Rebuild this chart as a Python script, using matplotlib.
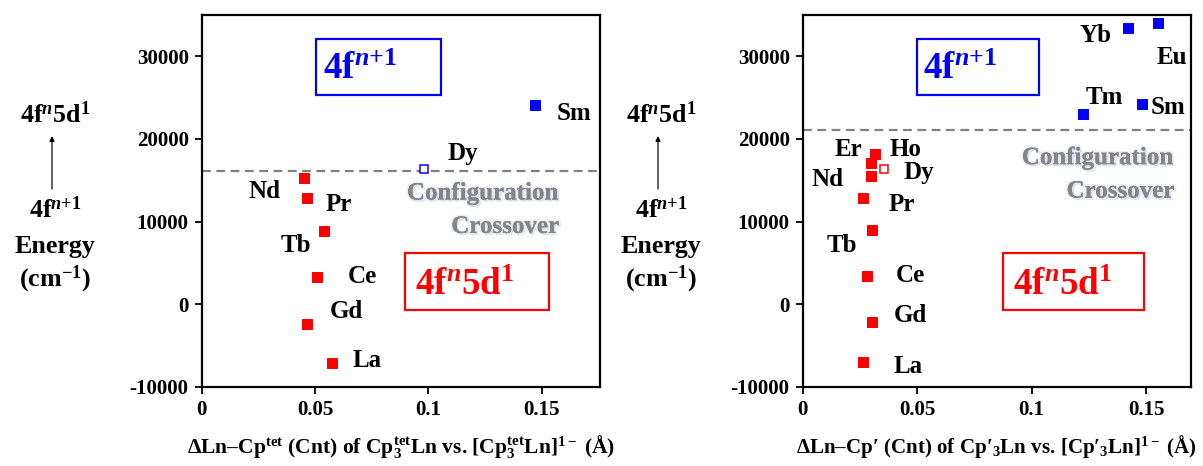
import matplotlib
matplotlib.use("Agg")
from matplotlib import pyplot as plt
from matplotlib import patheffects as pe
from matplotlib.patches import Rectangle, FancyArrowPatch

plt.rcParams['font.family'] = ['Liberation Serif', 'DejaVu Serif']
plt.rcParams['font.weight'] = 'bold'
plt.rcParams['mathtext.fontset'] = 'custom'
plt.rcParams['mathtext.rm'] = 'Liberation Serif:bold'
plt.rcParams['mathtext.it'] = 'Liberation Serif:bold:italic'
plt.rcParams['mathtext.bf'] = 'Liberation Serif:bold'

# Cp^tet_3Ln data
tet_ln = ['Sm', 'Dy', 'Nd', 'Pr', 'Tb', 'Ce', 'Gd', 'La']
tet_dx = [0.1469, 0.0981, 0.0452, 0.0466, 0.0540, 0.0507, 0.0464, 0.0574]
tet_energy = [24150, 16400, 15270, 12850, 8860, 3350, -2340, -7100]
tet_ground = ['f', 'f', 'd', 'd', 'd', 'd', 'd', 'd']
tet_open = ['Dy']
tet_crossover = 16100

# Cp'_3Ln data
cp_ln = ['Yb', 'Eu', 'Tm', 'Sm', 'Ho', 'Er', 'Dy', 'Nd', 'Pr', 'Tb', 'Ce', 'Gd', 'La']
cp_dx = [0.1421, 0.1554, 0.1225, 0.1480, 0.0316, 0.0299, 0.0354, 0.0299,
         0.0262, 0.0302, 0.0282, 0.0302, 0.0262]
cp_energy = [33460, 34020, 22970, 24270, 18220, 17130, 16320, 15510,
             12850, 9030, 3390, -2140, -6970]
cp_ground = ['f', 'f', 'f', 'f', 'd', 'd', 'd', 'd', 'd', 'd', 'd', 'd', 'd']
cp_open = ['Dy']
cp_crossover = 21100

yticks = [-10000, 0, 10000, 20000, 30000]
xticks = [0, 0.05, 0.1, 0.15]
xtick_labels = ['0', '0.05', '0.1', '0.15']

# label offsets from marker, in pixels (dpi 72 -> points)
tet_offsets = {'Sm': (39, -9), 'Dy': (39, 15), 'Nd': (-40, -13), 'Pr': (31, -6),
               'Tb': (-28, -14), 'Ce': (46, 0), 'Gd': (39, 12), 'La': (35, 3)}
cp_offsets = {'Yb': (-33, -8), 'Eu': (13, -34), 'Tm': (21, 17), 'Sm': (26, -4),
              'Ho': (31, 4), 'Er': (-23, 13), 'Dy': (35, -3), 'Nd': (-44, -3),
              'Pr': (39, -6), 'Tb': (-30, -16), 'Ce': (43, 1), 'Gd': (39, 7),
              'La': (46, -5)}

colors = {'f': '#0000ff', 'd': '#ff0000'}
W, H = 1203, 466
fig = plt.figure(figsize=(W / 72, H / 72), dpi=72)

glow = [pe.withSimplePatchShadow(offset=(2, -2), shadow_rgbFace='#b9c6e6', alpha=0.55),
        pe.withStroke(linewidth=4, foreground='#dfe6f5', alpha=0.5),
        pe.Normal()]


def draw_panel(rect, ln, dx, energy, ground, opened, offsets, cross, xmax,
               blue_box, red_box, conf_pos, xlabel, xlabel_size):
    ax = fig.add_axes(rect)
    for name, x, y, g in zip(ln, dx, energy, ground):
        c = colors[g]
        if name in opened:
            ax.plot(x, y, 's', ms=8, mfc='white', mec=c, mew=1.5, zorder=4)
        else:
            ax.plot(x, y, 's', ms=10.5, color=c, mec=c, zorder=4)
        ax.annotate(name, (x, y), xytext=offsets[name], textcoords='offset points',
                    ha='center', va='center', fontsize=25, fontweight='bold')
    ax.axhline(cross, color='#808080', lw=2.2, ls=(0, (4, 2.5)), zorder=2)
    ax.set_xlim(0, xmax)
    ax.set_ylim(-10000, 35000)
    ax.set_yticks(yticks)
    ax.set_yticklabels([str(t) for t in yticks])
    ax.set_xticks(xticks)
    ax.set_xticklabels(xtick_labels)
    ax.tick_params(labelsize=21, width=1.8, length=7, direction='out', pad=6)
    for s in ax.spines.values():
        s.set_linewidth(2.2)

    bx0, bx1, by0, by1 = blue_box
    ax.add_patch(Rectangle((bx0, by0), bx1 - bx0, by1 - by0, fill=False,
                           ec='#0000ff', lw=2.2, zorder=3))
    ax.text(bx0 + 0.35 * (bx1 - bx0), (by0 + by1) / 2 - 300, r'$4\mathrm{f}^{n\mathrm{+1}}$',
            color='#0000ff', fontsize=37, ha='center', va='center')
    rx0, rx1, ry0, ry1 = red_box
    ax.add_patch(Rectangle((rx0, ry0), rx1 - rx0, ry1 - ry0, fill=False,
                           ec='#ff0000', lw=2.2, zorder=3))
    ax.text(rx0 + 0.42 * (rx1 - rx0), (ry0 + ry1) / 2 - 500, r'$4\mathrm{f}^{n}\mathrm{5d}^{\mathrm{1}}$',
            color='#ff0000', fontsize=37, ha='center', va='center')

    (cx1, cy1), (cx2, cy2) = conf_pos
    ax.text(cx1, cy1, 'Configuration', color='#858585', fontsize=25,
            ha='right', va='center', path_effects=glow, zorder=3)
    ax.text(cx2, cy2, 'Crossover', color='#858585', fontsize=25,
            ha='right', va='center', path_effects=glow, zorder=3)

    xc = rect[0] + rect[2] / 2
    fig.text(xc, 1 - 447 / H, xlabel, fontsize=xlabel_size, ha='center', va='center')
    return ax


def side_labels(xpix):
    fig.text(xpix / W, 1 - 115 / H, r'$4\mathrm{f}^{n}\mathrm{5d}^{\mathrm{1}}$',
             fontsize=26, ha='center', va='center')
    fig.text(xpix / W, 1 - 210 / H, r'$4\mathrm{f}^{n\mathrm{+1}}$',
             fontsize=26, ha='center', va='center')
    fig.text(xpix / W, 1 - 247 / H, 'Energy', fontsize=26, ha='center', va='center')
    fig.text(xpix / W, 1 - 279 / H, r'(cm$^{\mathrm{-1}}$)', fontsize=26,
             ha='center', va='center')
    fig.patches.append(FancyArrowPatch(
        ((xpix - 3) / W, 1 - 191 / H), ((xpix - 3) / W, 1 - 134 / H),
        transform=fig.transFigure, arrowstyle='-|>', mutation_scale=10,
        color='black', lw=1.2))


ax1 = draw_panel([201.7 / W, 1 - 387 / H, (600 - 201.7) / W, (387 - 15) / H],
                 tet_ln, tet_dx, tet_energy, tet_ground, tet_open, tet_offsets,
                 tet_crossover, 0.1757,
                 (0.0505, 0.1056, 25270, 32130), (0.0895, 0.153, -640, 6200),
                 ((0.1572, 13460), (0.1575, 9430)),
                 r'ΔLn–Cp$^{\mathrm{tet}}$ (Cnt) of Cp${}^{\mathrm{tet}}_{\mathrm{3}}$Ln vs. '
                 r'[Cp${}^{\mathrm{tet}}_{\mathrm{3}}$Ln]$^{\mathrm{1-}}$ (Å)', 21.5)
ax2 = draw_panel([802.7 / W, 1 - 387 / H, (1191 - 802.7) / W, (387 - 15) / H],
                 cp_ln, cp_dx, cp_energy, cp_ground, cp_open, cp_offsets,
                 cp_crossover, 0.1696,
                 (0.050, 0.103, 25270, 32130), (0.0875, 0.1491, -640, 6200),
                 ((0.1617, 17740), (0.1622, 13700)),
                 r'ΔLn–Cp′ (Cnt) of Cp′$_{\mathrm{3}}$Ln vs. [Cp′$_{\mathrm{3}}$Ln]$^{\mathrm{1-}}$ (Å)', 21)

side_labels(55)
side_labels(661)

fig.savefig('out.png', dpi=72)
